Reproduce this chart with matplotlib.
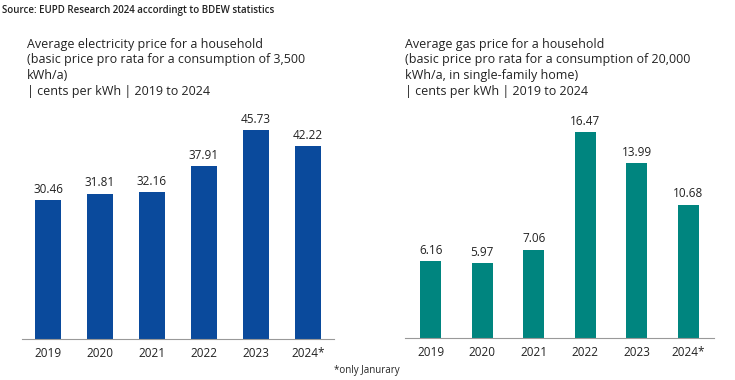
import matplotlib.pyplot as plt

years = ["2019", "2020", "2021", "2022", "2023", "2024*"]
electricity = [30.46, 31.81, 32.16, 37.91, 45.73, 42.22]
gas = [6.16, 5.97, 7.06, 16.47, 13.99, 10.68]

title_elec = ("Average electricity price for a household\n"
              "(basic price pro rata for a consumption of 3,500\n"
              "kWh/a)\n"
              "| cents per kWh | 2019 to 2024")
title_gas = ("Average gas price for a household\n"
             "(basic price pro rata for a consumption of 20,000\n"
             "kWh/a, in single-family home)\n"
             "| cents per kWh | 2019 to 2024")

plt.rcParams['font.family'] = ['Open Sans', 'DejaVu Sans']

W, H = 735, 380
fig = plt.figure(figsize=(W / 100, H / 100), dpi=100)


def panel(rect, values, color, width, ymax):
    ax = fig.add_axes(rect)
    x = range(len(values))
    ax.bar(x, values, width=width, color=color)
    for xi, v in zip(x, values):
        ax.text(xi, v + ymax * 0.02, f"{v:.2f}", ha='center', va='bottom',
                fontsize=8.5, color='#222222')
    ax.set_xlim(-0.5, 5.5)
    ax.set_ylim(0, ymax)
    ax.set_xticks(list(x))
    ax.set_xticklabels(years, fontsize=8.5, color='#222222')
    ax.tick_params(axis='x', length=0, pad=6)
    ax.set_yticks([])
    for s in ['top', 'left', 'right']:
        ax.spines[s].set_visible(False)
    ax.spines['bottom'].set_color('#999999')
    ax.spines['bottom'].set_linewidth(0.8)
    return ax


# left: electricity
panel([22 / W, 41 / H, 312 / W, 228 / H], electricity, '#0a4a9c', 0.5, 50)
# right: gas
panel([405 / W, 42 / H, 309 / W, 225 / H], gas, '#00857f', 0.41, 18)

fig.text(2 / W, 1 - 10 / H, "Source: EUPD Research 2024 accordingt to BDEW statistics",
         fontsize=7, color='#222222', va='center', ha='left', fontweight='semibold')
fig.text(27 / W, 1 - 38 / H, title_elec, fontsize=9, color='#222222',
         va='top', ha='left', linespacing=1.25)
fig.text(405 / W, 1 - 38 / H, title_gas, fontsize=9, color='#222222',
         va='top', ha='left', linespacing=1.25)
fig.text(334 / W, 1 - 370 / H, "*only Janurary", fontsize=7,
         color='#222222', va='center', ha='left')

plt.savefig("out.png", dpi=100)
